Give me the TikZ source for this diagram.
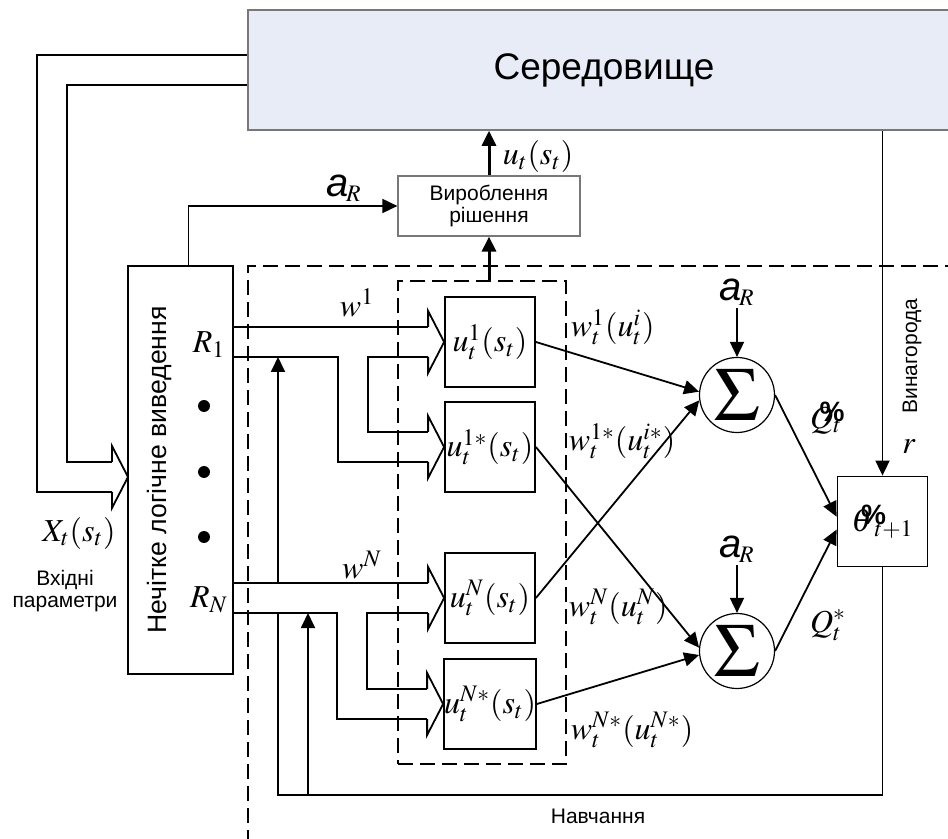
\documentclass[tikz,border=0pt]{standalone}
\usepackage{mathptmx}
\usepackage[no-math]{fontspec}
\setmainfont{Liberation Sans}
\usetikzlibrary{arrows.meta,calc}
\definecolor{envfill}{RGB}{232,236,247}
\definecolor{envline}{RGB}{120,120,120}
\newcommand{\aR}{{\fontsize{20}{20}\selectfont\itshape a}$_{\!R}$}
\newcommand{\qbrk}[2]{\rlap{$#1$}\hspace{0.3em}{\fontsize{14}{14}\selectfont\bfseries\raisebox{0.45ex}{\%}}\hspace{-0.35em}$_{#2}$}

\begin{document}
\begin{tikzpicture}[x=0.5pt,y=-0.5pt,>={Triangle[length=7.5pt,width=7pt]},line width=0.9pt,font=\fontsize{10.5}{12.5}\selectfont]
\tikzset{blk/.style={draw,line width=0.9pt,minimum width=45pt,minimum height=45pt,inner sep=0pt,font=\fontsize{16}{18}\selectfont},
  dsh/.style={draw,dash pattern=on 7.5pt off 3.5pt,line width=0.9pt},
  sm/.style={circle,draw,line width=0.6pt,minimum size=37.5pt,inner sep=0pt,font=\fontsize{38}{38}\selectfont},
  mth/.style={font=\fontsize{16}{18}\selectfont,inner sep=1pt},
  bhead/.pic={\draw (-16,-15)--(-16,-31)--(0,0)--(-16,31)--(-16,15);}}
\useasboundingbox (0,0) rectangle (948,839);
\clip (0,0) rectangle (948,839);
% environment and decision
\node[draw=envline,fill=envfill,line width=0.8pt,minimum width=356pt,minimum height=60pt,font=\fontsize{18.5}{20}\selectfont] (env) at (604,70) {Середовище};
\node[draw=envline,line width=0.6pt,minimum width=91pt,minimum height=30pt,inner sep=0pt,align=center,font=\fontsize{10.5}{9.5}\selectfont] (dec) at (489,206) {Вироблення\\рішення};
\draw[dsh] (960,266) -| (248,860);
\node[dsh,minimum width=84pt,minimum height=241.5pt] (grp) at (482,522.5) {};
% fuzzy inference block
\node[draw,minimum width=52.5pt,minimum height=204pt] (fis) at (180.5,470) {};
\node[rotate=90,font=\fontsize{13.3}{15}\selectfont] (fist) at (160,470) {Нечітке логічне виведення};
\node[mth] (R1) at (209,345) {$R_1$};
\node[mth] (RN) at (209,600) {$R_N$};
\foreach \y [count=\i] in {406,472,537} \node[circle,fill,inner sep=0pt,minimum size=6pt] (d\i) at (204,\y) {};
% inputs
\coordinate (xin) at (128,477);
\pic at (xin) {bhead};
\draw ($(env.west)+(0,-15)$) -| ($(xin)+(-91,15)$) -- ++(75,0);
\draw ($(env.west)+(0,15)$) -| ($(xin)+(-61,-15)$) -- ++(45,0);
\node[mth] (X) at (79,533) {$X_t(s_t)$};
\node[align=center,font=\fontsize{10.5}{11}\selectfont] (inp) at (65,591) {Вхідні\\параметри};
\draw[->] ($(fis.north)+(8,0)$) |- (dec.west);
\node[mth] (aR0) at (344,188) {\aR};
\draw[->,line width=1.5pt] (dec.north) -- (dec.north |- env.south);
\draw[->,line width=1.5pt] (dec.south |- grp.north) -- (dec.south);
\node[mth,anchor=west] (ut) at (500,157) {$u_t(s_t)$};
% rule outputs
\node[blk] (u1) at (490,342) {$u_t^1(s_t)$};
\node[blk] (u1s) at (490,447) {$u_t^{1*}(s_t)$};
\node[blk] (uN) at (490,598) {$u_t^N(s_t)$};
\node[blk] (uNs) at (490,704) {$u_t^{N*}(s_t)$};
\foreach \a/\b in {u1/u1s,uN/uNs}{
  \pic at (\a.west) {bhead}; \pic at (\b.west) {bhead};
  \draw (fis.east |- \a.west) ++(0,-15) -- ($(\a.west)+(-16,-15)$);
  \draw (fis.east |- \a.west) ++(0,15) -| ($(\b.west)+(-106,15)$) -- ++(90,0);
  \draw ($(\a.west)+(-16,15)$) -| ($(\b.west)+(-76,-15)$) -- ++(60,0);
}
\node[mth] (w1) at (357,303) {$w^1$};
\node[mth] (wN) at (362,565) {$w^N$};
% learning loop
\node[blk] (qbox) at (882.5,521.5) {\qbrk{\theta}{t+1}};
\coordinate (lrn) at (278,795);
\draw (qbox.south) |- (lrn) -- ($(lrn |- uN.west)+(0,15)$);
\draw[->] ($(lrn |- uN.west)+(0,-15)$) -- ($(lrn |- u1.west)+(0,15)$);
\draw[->] ($(lrn)+(30,0)$) -- ($(lrn |- uN.west)+(30,15)$);
\node (lrnl) at (598,816) {Навчання};
% sums
\node[sm] (s1) at (737,395) {$\Sigma$};
\node[sm] (s2) at (737,651) {$\Sigma$};
\node[mth] (aR1) at (737,292) {\aR};
\node[mth] (aR2) at (737,549) {\aR};
\draw[->] (aR1) -- (s1);
\draw[->] (aR2) -- (s2);
\draw[->] (u1.east) -- (s1.175); \draw[->] (uN.east) -- (s1.188);
\draw[->] (u1s.east) -- (s2.175); \draw[->] (uNs.east) -- (s2.186);
\node[mth,anchor=west] (w1t) at (568,327) {$w_t^1(u_t^i)$};
\node[mth,anchor=west] (w1st) at (566,441) {$w_t^{1*}(u_t^{i*})$};
\node[mth,anchor=west] (wNt) at (566,607) {$w_t^N(u_t^N)$};
\node[mth,anchor=west] (wNst) at (568,730) {$w_t^{N*}(u_t^{N*})$};
\draw[->] (s1.east) -- (qbox.174);
\draw[->] (s2.east) -- (qbox.190);
\node[mth] (Qt) at (826,418) {\qbrk{Q}{t}};
\node[mth] (Qs) at (828,625) {$Q_t^*$};
% reward
\draw[->] (qbox.north |- env.south) -- (qbox.north);
\node[rotate=90] (rwd) at (912,356) {Винагорода};
\node[mth] (r) at (909,447) {$r$};
\end{tikzpicture}
\end{document}
